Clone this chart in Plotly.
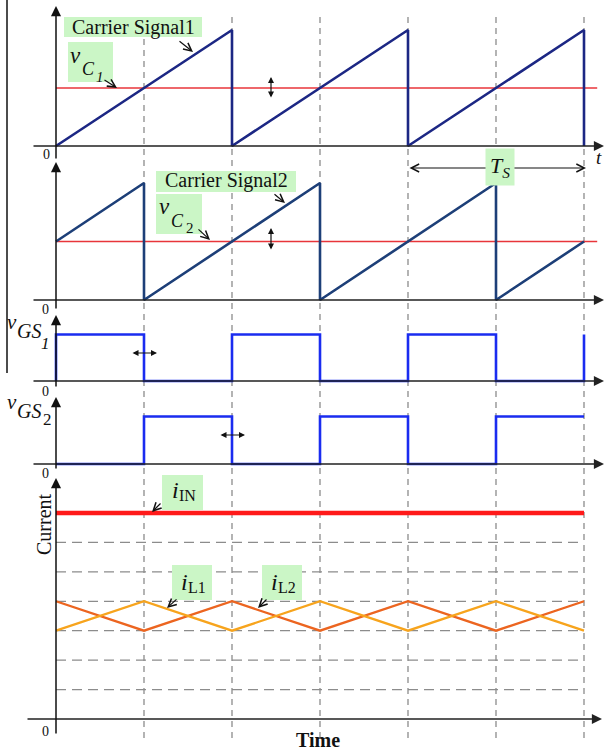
import plotly.graph_objects as go

# ---------------- data ----------------
t_carrier1 = [0, 2, 2, 4, 4, 6, 6]
v_carrier1 = [0, 1, 0, 1, 0, 1, 0]
t_carrier2 = [0, 1, 1, 3, 3, 5, 5, 6]
v_carrier2 = [0.5, 1, 0, 1, 0, 1, 0, 0.5]
t_ref = [0, 6.15]
v_ref1 = [0.5, 0.5]
v_ref2 = [0.5, 0.5]
t_gs1 = [0, 0, 1, 1, 2, 2, 3, 3, 4, 4, 5, 5, 6, 6]
v_gs1 = [0, 1, 1, 0, 0, 1, 1, 0, 0, 1, 1, 0, 0, 1]
t_gs2 = [0, 1, 1, 2, 2, 3, 3, 4, 4, 5, 5, 6]
v_gs2 = [0, 0, 1, 1, 0, 0, 1, 1, 0, 0, 1, 1]
t_in = [0, 6]
i_in = [7, 7]
t_l = [0, 1, 2, 3, 4, 5, 6]
i_l1 = [3, 4, 3, 4, 3, 4, 3]
i_l2 = [4, 3, 4, 3, 4, 3, 4]
switch_times = [1, 2, 3, 4, 5, 6]
current_grid = [1, 2, 3, 4, 5, 6]

# ---------------- geometry ----------------
W, H = 607, 755
X0 = 56.0      # px of t = 0
PXT = 88.0     # px per half period
XR = [-X0 / PXT, (W - X0) / PXT]

# panel: (axis name, baseline px, px per unit, range lo, range hi)
panels = {
    "p1": ("y", 146.0, 116.0, -0.12, 1.1),
    "p2": ("y2", 300.0, 117.0, -0.09, 1.1),
    "p3": ("y3", 381.0, 46.5, -0.2, 1.4),
    "p4": ("y4", 464.0, 47.5, -0.2, 1.4),
    "p5": ("y5", 719.0, 29.43, -0.6, 8.0),
}


def dom(p):
    _, base, sc, lo, hi = panels[p]
    return [1 - (base - lo * sc) / H, 1 - (base - hi * sc) / H]


def px(x):
    return x / W


def py(y):
    return 1 - y / H


NAVY1 = "#1c2784"
NAVY2 = "#1d3f78"
RED = "#e8353a"
BLUE = "#1a2cf0"
IRED = "#ff1a1a"
ORANGE_L = "#f7a41d"
ORANGE_D = "#ec6520"
GRAY = "#8c8c8c"
GREEN = "#cbf6c6"
SERIF = "Liberation Serif, Times New Roman, serif"

fig = go.Figure()


def line(t, v, ax, color, width):
    fig.add_trace(go.Scatter(x=t, y=v, xaxis="x", yaxis=ax, mode="lines",
                             line=dict(color=color, width=width),
                             hoverinfo="skip", showlegend=False))


line(t_ref, v_ref1, "y", RED, 1.6)
line(t_carrier1, v_carrier1, "y", NAVY1, 2.6)
line(t_ref, v_ref2, "y2", RED, 1.6)
line(t_carrier2, v_carrier2, "y2", NAVY2, 2.6)
line(t_gs1, v_gs1, "y3", BLUE, 2.6)
line(t_gs2, v_gs2, "y4", BLUE, 2.6)
line(t_in, i_in, "y5", IRED, 4.5)
line(t_l, i_l2, "y5", ORANGE_D, 2.3)
line(t_l, i_l1, "y5", ORANGE_L, 2.3)

shapes = []
# vertical dashed switching lines
for ts in switch_times:
    shapes.append(dict(type="line", xref="x", yref="paper", x0=ts, x1=ts,
                       y0=py(738), y1=py(15), layer="below",
                       line=dict(color=GRAY, width=1.3, dash="6px,5px")))
# horizontal dashed grid in current panel
for g in current_grid:
    shapes.append(dict(type="line", xref="x", yref="y5", x0=0, x1=6, y0=g, y1=g,
                       layer="below",
                       line=dict(color=GRAY, width=1.3, dash="10px,6px")))
# left border stroke
shapes.append(dict(type="line", xref="paper", yref="paper", x0=px(7), x1=px(7),
                   y0=py(373), y1=py(0), line=dict(color="#111", width=1.5)))
# green label boxes
for (x0, y0, x1, y1) in [(64, 17, 202, 37), (68, 42, 113, 82),
                         (156, 171, 296, 192), (156, 194, 202, 234),
                         (162, 475, 203, 510), (172, 565, 212, 600),
                         (262, 565, 302, 600)]:
    shapes.append(dict(type="rect", xref="paper", yref="paper",
                       x0=px(x0), x1=px(x1), y0=py(y1), y1=py(y0),
                       fillcolor=GREEN, line=dict(width=0), layer="above"))

ann = []


def arrow(tail, head, head_style=2, size=1.4, width=1.5, both=False, color="#111"):
    ann.append(dict(xref="paper", yref="paper", x=px(head[0]), y=py(head[1]),
                    axref="pixel", ayref="pixel",
                    ax=tail[0] - head[0], ay=tail[1] - head[1],
                    text="", showarrow=True, arrowhead=head_style,
                    startarrowhead=head_style, arrowsize=size,
                    startarrowsize=size, arrowwidth=width, arrowcolor=color,
                    arrowside="end+start" if both else "end",
                    standoff=0, startstandoff=0))


def text(s, x, y, size=18, color="#111", angle=0, **kw):
    ann.append(dict(xref="paper", yref="paper", x=px(x), y=py(y), text=s,
                    showarrow=False, textangle=angle,
                    font=dict(family=SERIF, size=size, color=color),
                    xanchor="center", yanchor="middle", **kw))


# axis arrows
for p, (xa, xb, ytop, ybot) in {
    "p1": (32, 604, 6, 160), "p2": (32, 604, 162, 310),
    "p3": (32, 604, 315, 388), "p4": (32, 604, 397, 470),
    "p5": (26, 602, 478, 735)}.items():
    base = panels[p][1]
    arrow((xa, base), (xb, base), head_style=2, size=1.35, width=1.5, color="#222")
    arrow((X0, ybot), (X0, ytop), head_style=2, size=1.35, width=1.5, color="#111")

# label pointer arrows
arrow((178, 40), (193, 52), head_style=5, size=1.3, width=1.2)
arrow((103, 79), (117, 88), head_style=5, size=1.3, width=1.2)
arrow((273, 193), (285, 203), head_style=5, size=1.3, width=1.2)
arrow((197, 228), (210, 240), head_style=5, size=1.3, width=1.2)
arrow((162, 502), (152, 512), head_style=5, size=1.3, width=1.2)
arrow((178, 598), (167, 608), head_style=5, size=1.3, width=1.2)
arrow((268, 598), (258, 608), head_style=5, size=1.3, width=1.2)
# small double arrows (adjustment)
arrow((271, 99), (271, 77), head_style=2, size=1.0, width=1.2, both=True)
arrow((271, 251), (271, 228), head_style=2, size=1.0, width=1.2, both=True)
arrow((131, 353), (157, 353), head_style=2, size=1.0, width=1.2, both=True)
arrow((219, 435), (245, 435), head_style=2, size=1.0, width=1.2, both=True)
# Ts period arrow
arrow((408, 168), (586, 168), head_style=5, size=1.3, width=1.2, both=True)

# texts
text("Carrier Signal1", 133, 27, size=20)
text("<i>v</i>", 75, 55, size=23)
text("<i>C</i>", 88, 69, size=18)
text("<i>1</i>", 100, 77, size=15)
text("Carrier Signal2", 226, 181, size=20)
text("<i>v</i>", 164, 207, size=23)
text("<i>C</i>", 177, 221, size=18)
text("2", 190, 228, size=15)
text("<i>T</i><sub><i>S</i></sub>", 500, 167, size=22, bgcolor=GREEN, borderpad=4)
text("<i>t</i>", 599, 157, size=19)
text("<i>v</i>", 12, 322, size=21)
text("<i>GS</i>", 29, 331, size=20)
text("<i>1</i>", 45, 343, size=17)
text("<i>v</i>", 12, 402, size=21)
text("<i>GS</i>", 29, 411, size=20)
text("2", 47, 419, size=17)
text("<i>i</i>", 175, 490, size=24)
text("IN", 187, 495, size=16)
text("<i>i</i>", 184, 582, size=24)
text("L1", 197, 587, size=16)
text("<i>i</i>", 274, 582, size=24)
text("L2", 287, 587, size=16)
text("Current", 44, 524, size=20, angle=-90)
text("<b>Time</b>", 318, 740, size=20)
for (x, y) in [(46, 154), (45, 309), (45, 391), (45, 473), (45, 731)]:
    text("0", x, y, size=14)

layout_axes = dict(
    xaxis=dict(range=XR, domain=[0, 1], visible=False, anchor="y", fixedrange=True),
)
for p, (name, base, sc, lo, hi) in panels.items():
    key = "yaxis" if name == "y" else "yaxis" + name[1:]
    layout_axes[key] = dict(domain=dom(p), range=[lo, hi], visible=False,
                            anchor="x", fixedrange=True)

fig.update_layout(width=W, height=H, margin=dict(l=0, r=0, t=0, b=0),
                  paper_bgcolor="white", plot_bgcolor="white",
                  shapes=shapes, annotations=ann, showlegend=False,
                  **layout_axes)

fig.write_html("out.html", config={"displayModeBar": False},
               post_script="document.body.style.margin='0';document.body.style.overflow='hidden';")
